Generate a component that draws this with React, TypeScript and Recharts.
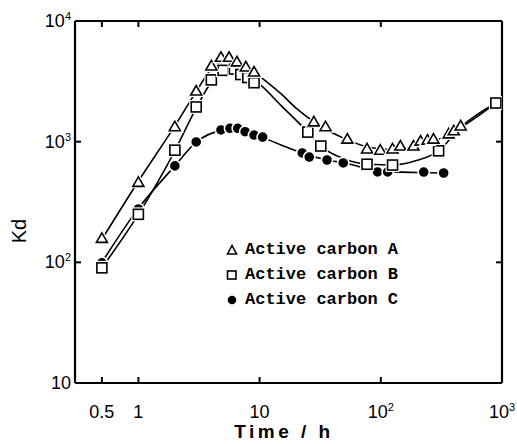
import React from "react";
import { ComposedChart, Line, Scatter, XAxis, YAxis } from "recharts";

const A_T = [0.5, 1, 2, 3, 4, 4.8, 5.6, 6.5, 7.7, 9, 28, 35, 53, 77, 99, 125, 145, 186, 213, 243, 272, 363, 400, 456];
const A_KD = [158, 460, 1330, 2630, 4240, 5000, 5000, 4580, 4160, 3780, 1460, 1330, 1050, 870, 850, 870, 920, 920, 1010, 1030, 1050, 1160, 1230, 1350];

const B_T = [0.5, 1, 2, 3, 4, 5, 6.2, 7, 8, 9, 25, 32, 77, 125, 300, 890];
const B_KD = [90, 250, 850, 1940, 3250, 3900, 4000, 3600, 3400, 3080, 1200, 920, 650, 640, 840, 2090];

const C_T = [0.5, 1, 2, 3, 4.8, 5.7, 6.6, 7.6, 9, 10.6, 22.5, 25.7, 36, 49, 94, 114, 226, 330];
const C_KD = [99, 277, 630, 995, 1250, 1290, 1290, 1210, 1135, 1090, 806, 746, 705, 666, 561, 561, 560, 550];

// Hand-drawn fitted curves.
const A_FIT_T = [0.5, 1, 2, 3, 4, 5, 6, 8, 10, 15, 20, 30, 50, 80, 120, 200, 300, 450, 890];
const A_FIT_KD = [155, 470, 1350, 2600, 4000, 4600, 4700, 4200, 3500, 2500, 1900, 1400, 1060, 900, 860, 920, 1040, 1300, 2090];

const B_FIT_T = [0.5, 1, 2, 3, 4, 5, 6, 8, 10, 15, 25, 32, 50, 80, 125, 200, 300, 450, 890];
const B_FIT_KD = [90, 250, 840, 1900, 3100, 3700, 3850, 3500, 3000, 2000, 1200, 920, 720, 650, 640, 700, 840, 1300, 2090];

const C_FIT_T = [0.5, 1, 2, 3, 5, 7, 10, 15, 22, 36, 50, 100, 200, 330];
const C_FIT_KD = [100, 280, 630, 990, 1240, 1270, 1110, 940, 810, 705, 665, 570, 555, 550];

const X_TICKS = [0.5, 1, 10, 100, 1000];
const X_LABELS = ["0.5", "1", "10", "10|2", "10|3"];
const X_MARKS = [0.5, 1, 10, 100];
const Y_TICKS = [10, 100, 1000, 10000];
const Y_LABELS = ["10", "10|2", "10|3", "10|4"];
const Y_MARKS = [100, 1000];

const SERIES_NAMES = ["Active carbon A", "Active carbon B", "Active carbon C"];

const zip = (t: number[], kd: number[]) => t.map((v, i) => ({ t: v, kd: kd[i] }));

const FONT = "'Liberation Sans', Arial, sans-serif";

function Pow({ label }: { label: string }) {
  const [base, exp] = label.split("|");
  return (
    <>
      <tspan>{base}</tspan>
      {exp && (
        <tspan dy={-7} fontSize={11}>
          {exp}
        </tspan>
      )}
    </>
  );
}

function BottomTick({ x, y, payload }: any) {
  const v = payload.value;
  const i = X_TICKS.indexOf(v);
  return (
    <g>
      {X_MARKS.includes(v) && <line x1={x} x2={x} y1={y} y2={y - 6} stroke="#000" strokeWidth={2} />}
      <text x={x} y={y + 35} textAnchor="middle" fontFamily={FONT} fontSize={18} fill="#000">
        <Pow label={X_LABELS[i]} />
      </text>
    </g>
  );
}

function TopTick({ x, y, payload }: any) {
  if (!X_MARKS.includes(payload.value)) return <g />;
  return <line x1={x} x2={x} y1={y} y2={y + 6} stroke="#000" strokeWidth={2} />;
}

function LeftTick({ x, y, payload }: any) {
  const v = payload.value;
  const i = Y_TICKS.indexOf(v);
  return (
    <g>
      {Y_MARKS.includes(v) && <line x1={x} x2={x + 6} y1={y} y2={y} stroke="#000" strokeWidth={2} />}
      <text x={x - 4} y={y + 6} textAnchor="end" fontFamily={FONT} fontSize={18} fill="#000">
        <Pow label={Y_LABELS[i]} />
      </text>
    </g>
  );
}

function RightTick({ x, y, payload }: any) {
  if (!Y_MARKS.includes(payload.value)) return <g />;
  return <line x1={x} x2={x - 6} y1={y} y2={y} stroke="#000" strokeWidth={2} />;
}

function Triangle({ cx, cy }: any) {
  const pts = `${cx},${cy - 5.5} ${cx - 5.5},${cy + 4} ${cx + 5.5},${cy + 4}`;
  return (
    <g>
      <polygon points={pts} fill="#fff" stroke="#fff" strokeWidth={4} />
      <polygon points={pts} fill="#fff" stroke="#000" strokeWidth={1.6} />
    </g>
  );
}

function Square({ cx, cy }: any) {
  return (
    <g>
      <rect x={cx - 5} y={cy - 5} width={10} height={10} fill="#fff" stroke="#fff" strokeWidth={4} />
      <rect x={cx - 5} y={cy - 5} width={10} height={10} fill="#fff" stroke="#000" strokeWidth={1.6} />
    </g>
  );
}

function Dot({ cx, cy }: any) {
  return <circle cx={cx} cy={cy} r={5.6} fill="#000" stroke="#fff" strokeWidth={1.6} />;
}

function LegendMark({ kind }: { kind: number }) {
  return (
    <svg width={12} height={12} style={{ display: "block" }}>
      {kind === 0 && <polygon points="6,1.5 1.5,10 10.5,10" fill="#fff" stroke="#000" strokeWidth={1.6} />}
      {kind === 1 && <rect x={1.5} y={2} width={8.5} height={8} fill="#fff" stroke="#000" strokeWidth={1.6} />}
      {kind === 2 && <circle cx={6} cy={6} r={4.3} fill="#000" />}
    </svg>
  );
}

export default function App() {
  const lineProps = {
    dataKey: "kd",
    stroke: "#000",
    strokeWidth: 1.6,
    dot: false,
    activeDot: false,
    type: "monotone" as const,
    isAnimationActive: false,
  };
  const axisLine = { stroke: "#000", strokeWidth: 2.2 };
  return (
    <div style={{ position: "absolute", left: 0, top: 0, width: 517, height: 444, background: "#fff" }}>
      <ComposedChart width={517} height={444} margin={{ top: 20, right: 14, bottom: 0, left: 0 }}>
        <XAxis
          dataKey="t"
          type="number"
          scale="log"
          domain={[0.3, 1000]}
          allowDataOverflow
          ticks={X_TICKS}
          tick={<BottomTick />}
          tickSize={0}
          tickMargin={0}
          tickLine={false}
          axisLine={axisLine}
          height={61}
          interval={0}
        />
        <XAxis
          xAxisId="top"
          orientation="top"
          dataKey="t"
          type="number"
          scale="log"
          domain={[0.3, 1000]}
          allowDataOverflow
          ticks={X_MARKS}
          tick={<TopTick />}
          tickSize={0}
          tickMargin={0}
          tickLine={false}
          axisLine={axisLine}
          height={1}
          interval={0}
        />
        <YAxis
          dataKey="kd"
          type="number"
          scale="log"
          domain={[10, 10000]}
          allowDataOverflow
          ticks={Y_TICKS}
          tick={<LeftTick />}
          tickSize={0}
          tickMargin={0}
          tickLine={false}
          axisLine={axisLine}
          width={75}
          interval={0}
        />
        <YAxis
          yAxisId="right"
          orientation="right"
          dataKey="kd"
          type="number"
          scale="log"
          domain={[10, 10000]}
          allowDataOverflow
          ticks={Y_MARKS}
          tick={<RightTick />}
          tickSize={0}
          tickMargin={0}
          tickLine={false}
          axisLine={axisLine}
          width={1}
          interval={0}
        />
        <Line {...lineProps} data={zip(A_FIT_T, A_FIT_KD)} />
        <Line {...lineProps} data={zip(B_FIT_T, B_FIT_KD)} />
        <Line {...lineProps} data={zip(C_FIT_T, C_FIT_KD)} />
        <Scatter data={zip(C_T, C_KD)} dataKey="kd" shape={<Dot />} isAnimationActive={false} />
        <Scatter data={zip(B_T, B_KD)} dataKey="kd" shape={<Square />} isAnimationActive={false} />
        <Scatter data={zip(A_T, A_KD)} dataKey="kd" shape={<Triangle />} isAnimationActive={false} />
      </ComposedChart>

      <div
        style={{
          position: "absolute",
          left: 7,
          top: 231,
          transform: "translate(-50%, -50%) rotate(-90deg)",
          transformOrigin: "center",
          fontFamily: FONT,
          fontSize: 20,
          color: "#000",
          marginLeft: 12,
          whiteSpace: "nowrap",
        }}
      >
        Kd
      </div>
      <div
        style={{
          position: "absolute",
          left: 284,
          top: 432,
          transform: "translate(-50%, -50%)",
          fontFamily: FONT,
          fontSize: 19,
          fontWeight: "bold",
          letterSpacing: 3.5,
          whiteSpace: "nowrap",
          color: "#000",
        }}
      >
        Time / h
      </div>
      <div style={{ position: "absolute", left: 226, top: 237 }}>
        {SERIES_NAMES.map((name, i) => (
          <div key={name} style={{ display: "flex", alignItems: "center", height: 25 }}>
            <LegendMark kind={i} />
            <span
              style={{
                marginLeft: 7,
                fontFamily: "'Liberation Mono', 'Courier New', monospace",
                fontWeight: "bold",
                fontSize: 17,
                color: "#000",
                whiteSpace: "nowrap",
              }}
            >
              {name}
            </span>
          </div>
        ))}
      </div>
    </div>
  );
}
